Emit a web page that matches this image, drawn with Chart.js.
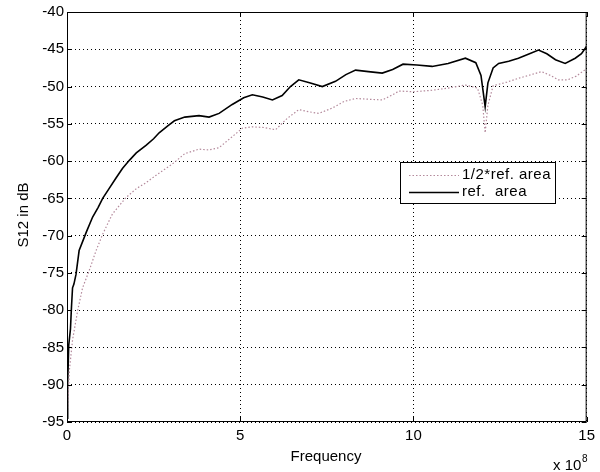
<!DOCTYPE html>
<html>
<head>
<meta charset="utf-8">
<script src="https://cdn.jsdelivr.net/npm/chart.js@4/dist/chart.umd.min.js"></script>
<style>
  html, body { margin: 0; padding: 0; background: #fff; }
  #wrap { width: 600px; height: 472px; }
</style>
</head>
<body>
<div id="wrap"><canvas id="grafico"></canvas></div>
<script>
// valores (frecuencia en unidades de 1e8)
const freqRef = [0.005, 0.02, 0.05, 0.10, 0.13, 0.16, 0.20, 0.26, 0.35, 0.45, 0.56, 0.74, 0.90, 1.03, 1.20, 1.41, 1.60, 1.80, 2.00, 2.28, 2.50, 2.66, 2.90, 3.10, 3.40, 3.81, 4.10, 4.39, 4.77, 5.10, 5.35, 5.65, 5.93, 6.21, 6.45, 6.69, 7.00, 7.37, 7.75, 8.05, 8.33, 8.70, 9.10, 9.40, 9.70, 10.10, 10.54, 11.00, 11.50, 11.80, 11.95, 12.07, 12.15, 12.30, 12.46, 12.75, 13.03, 13.35, 13.61, 13.85, 14.10, 14.38, 14.67, 14.85, 15.00];
const s12Ref = [-94.5, -89.8, -84.7, -82.5, -79.5, -77.0, -76.5, -75.2, -72.0, -70.8, -69.5, -67.5, -66.2, -65.0, -63.8, -62.3, -61.0, -59.9, -58.9, -57.9, -57.0, -56.2, -55.3, -54.6, -54.1, -53.9, -54.1, -53.6, -52.4, -51.5, -51.1, -51.4, -51.8, -51.2, -50.0, -49.1, -49.5, -50.0, -49.3, -48.4, -47.8, -48.0, -48.2, -47.7, -47.0, -47.1, -47.3, -46.9, -46.2, -46.8, -48.5, -52.7, -49.5, -47.5, -46.9, -46.6, -46.2, -45.6, -45.1, -45.6, -46.4, -46.9, -46.2, -45.6, -44.6];

const freqHalf = [0.005, 0.02, 0.07, 0.16, 0.31, 0.45, 0.64, 0.84, 1.03, 1.31, 1.70, 2.00, 2.28, 2.60, 3.04, 3.40, 3.81, 4.10, 4.39, 4.75, 5.06, 5.35, 5.70, 6.02, 6.35, 6.69, 7.00, 7.27, 7.65, 8.00, 8.33, 8.70, 9.10, 9.40, 9.58, 10.00, 10.54, 11.00, 11.50, 11.85, 12.00, 12.07, 12.15, 12.30, 12.70, 13.03, 13.40, 13.70, 13.95, 14.18, 14.45, 14.70, 15.00];
const s12Half = [-95.0, -93.0, -88.0, -84.0, -80.0, -77.0, -74.7, -72.0, -69.8, -67.1, -64.9, -63.7, -62.9, -61.8, -60.4, -59.0, -58.4, -58.5, -58.2, -56.8, -55.6, -55.4, -55.5, -55.8, -54.3, -53.1, -53.4, -53.6, -52.9, -52.0, -51.6, -51.7, -51.8, -51.1, -50.6, -50.7, -50.5, -50.2, -49.8, -50.2, -52.5, -56.2, -52.5, -49.9, -49.4, -48.9, -48.4, -48.0, -48.5, -49.1, -49.1, -48.6, -47.6];

const xTicks = [0, 5, 10, 15];
const yTicks = [-95, -90, -85, -80, -75, -70, -65, -60, -55, -50, -45, -40];
const etiquetas = ['1/2*ref. area', 'ref.  area'];

const fuente = '"Liberation Sans", Arial, sans-serif';

function puntos(xs, ys) {
    return xs.map((x, i) => ({ x: x, y: ys[i] }));
}

// Plugin para marco, marcas de eje, titulos y leyenda al estilo MATLAB
const estiloMatlab = {
    id: 'estiloMatlab',
    afterDraw(chart) {
        const ctx = chart.ctx;
        const a = chart.chartArea;
        const sx = chart.scales.x;
        const sy = chart.scales.y;
        ctx.save();

        // marco
        ctx.strokeStyle = '#000';
        ctx.lineWidth = 1;
        ctx.setLineDash([]);
        ctx.strokeRect(a.left + 0.5, a.top + 0.5, a.right - a.left - 1, a.bottom - a.top - 1);

        // marcas hacia adentro
        ctx.beginPath();
        xTicks.forEach(t => {
            const px = Math.round(sx.getPixelForValue(t)) + 0.5;
            ctx.moveTo(px, a.bottom); ctx.lineTo(px, a.bottom - 5);
            ctx.moveTo(px, a.top); ctx.lineTo(px, a.top + 5);
        });
        yTicks.forEach(t => {
            const py = Math.round(sy.getPixelForValue(t)) + 0.5;
            ctx.moveTo(a.left, py); ctx.lineTo(a.left + 5, py);
            ctx.moveTo(a.right, py); ctx.lineTo(a.right - 5, py);
        });
        ctx.stroke();

        // titulos de ejes
        ctx.fillStyle = '#000';
        ctx.font = '15px ' + fuente;
        ctx.textAlign = 'center';
        ctx.textBaseline = 'middle';
        ctx.fillText('Frequency', 326, 457);
        ctx.save();
        ctx.translate(24, 215);
        ctx.rotate(-Math.PI / 2);
        ctx.fillText('S12 in dB', 0, 0);
        ctx.restore();

        // factor de escala
        ctx.textAlign = 'left';
        ctx.fillText('x 10', 553, 466);
        ctx.font = '10px ' + fuente;
        ctx.fillText('8', 582, 459);

        // leyenda
        const lx = 400, ly = 162, lw = 155, lh = 41;
        ctx.fillStyle = '#fff';
        ctx.fillRect(lx, ly, lw, lh);
        ctx.strokeStyle = '#000';
        ctx.strokeRect(lx + 0.5, ly + 0.5, lw, lh);
        ctx.font = '15px ' + fuente;
        chart.data.datasets.forEach((ds, i) => {
            const yy = ly + 13 + i * 17;
            ctx.strokeStyle = ds.borderColor;
            ctx.lineWidth = ds.borderWidth;
            ctx.setLineDash(ds.borderDash || []);
            ctx.beginPath();
            ctx.moveTo(409, yy + 0.5);
            ctx.lineTo(459, yy + 0.5);
            ctx.stroke();
            ctx.setLineDash([]);
            ctx.fillStyle = '#000';
            ctx.textAlign = 'left';
            ctx.letterSpacing = '0.5px';
            ctx.fillText(ds.label, 462, yy);
            ctx.letterSpacing = '0px';
        });

        ctx.restore();
    }
};

new Chart(document.getElementById('grafico'), {
    type: 'scatter',
    data: {
        datasets: [
            {
                label: etiquetas[0],
                data: puntos(freqHalf, s12Half),
                showLine: true,
                borderColor: '#b48a9c',
                borderWidth: 1.2,
                borderDash: [1.5, 2],
                pointRadius: 0,
                tension: 0
            },
            {
                label: etiquetas[1],
                data: puntos(freqRef, s12Ref),
                showLine: true,
                borderColor: '#000',
                borderWidth: 1.6,
                pointRadius: 0,
                tension: 0
            }
        ]
    },
    options: {
        responsive: true,
        maintainAspectRatio: false,
        animation: false,
        layout: { padding: { top: 10, right: 12, left: 0, bottom: 0 } },
        plugins: {
            legend: { display: false },
            tooltip: { enabled: false }
        },
        scales: {
            x: {
                type: 'linear',
                min: 0,
                max: 15,
                afterBuildTicks: s => { s.ticks = xTicks.map(v => ({ value: v })); },
                afterFit: s => { s.height = 50; },
                grid: { color: '#000', lineWidth: 1, drawTicks: false },
                border: { display: false, dash: [1, 3] },
                ticks: { color: '#000', font: { size: 15, family: fuente }, padding: 5, maxRotation: 0 }
            },
            y: {
                type: 'linear',
                min: -95,
                max: -40,
                afterBuildTicks: s => { s.ticks = yTicks.map(v => ({ value: v })); },
                afterFit: s => { s.width = 67; },
                grid: { color: '#000', lineWidth: 1, drawTicks: false },
                border: { display: false, dash: [1, 3] },
                ticks: { color: '#000', font: { size: 15, family: fuente }, padding: 3 }
            }
        }
    },
    plugins: [estiloMatlab]
});
</script>
</body>
</html>
